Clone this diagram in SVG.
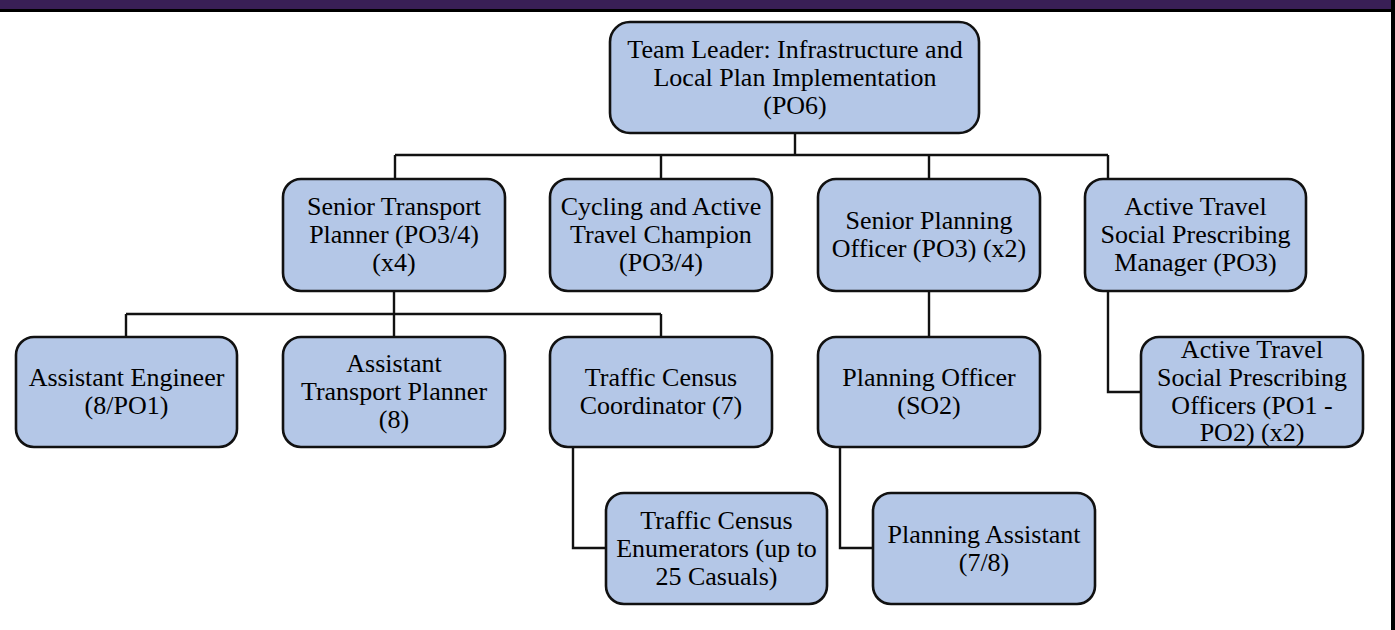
<svg xmlns="http://www.w3.org/2000/svg" width="1395" height="630" viewBox="0 0 1395 630">
  <style>
    .box { fill: #b4c7e7; stroke: #111; stroke-width: 2.6; }
    .lbl { font-family: 'Liberation Serif', 'Times New Roman', Times, Tinos, 'Noto Serif', 'Nimbus Roman', 'DejaVu Serif', serif; font-size: 26px; fill: #000; text-anchor: middle; }
    .wire { fill: none; stroke: #111; stroke-width: 2.4; }
  </style>
  <rect x="0" y="0" width="1395" height="630" fill="#ffffff"/>
  <!-- header band and frame -->
  <rect x="0" y="0" width="1391" height="9" fill="#391f56"/>
  <rect x="0" y="9" width="1395" height="3" fill="#000"/>
  <rect x="1391" y="0" width="4" height="630" fill="#000"/>

  <g id="connectors">
    <path class="wire" d="M795 133 V155 M395 155 H1108 M395 155 V179 M661 155 V179 M929 155 V179 M1108 155 V179"/>
    <path class="wire" d="M394 291 V314 M126 314 H661 M126 314 V337 M394 314 V337 M661 314 V337"/>
    <path class="wire" d="M929 291 V337"/>
    <path class="wire" d="M1108 291 V392 H1141"/>
    <path class="wire" d="M573 447 V548 H606"/>
    <path class="wire" d="M840 447 V548 H873"/>
  </g>

  <g id="team-leader">
    <rect class="box" x="610" y="22" width="369" height="111" rx="20"/>
    <text class="lbl" x="795" y="57.5">Team Leader: Infrastructure and</text>
    <text class="lbl" x="795" y="85.5">Local Plan Implementation</text>
    <text class="lbl" x="795" y="113.5">(PO6)</text>
  </g>

  <g id="senior-transport-planner">
    <rect class="box" x="283" y="179" width="222" height="112" rx="18"/>
    <text class="lbl" x="394" y="215">Senior Transport</text>
    <text class="lbl" x="394" y="243">Planner (PO3/4)</text>
    <text class="lbl" x="394" y="271">(x4)</text>
  </g>

  <g id="cycling-champion">
    <rect class="box" x="550" y="179" width="222" height="112" rx="18"/>
    <text class="lbl" x="661" y="215">Cycling and Active</text>
    <text class="lbl" x="661" y="243">Travel Champion</text>
    <text class="lbl" x="661" y="271">(PO3/4)</text>
  </g>

  <g id="senior-planning-officer">
    <rect class="box" x="818" y="179" width="222" height="112" rx="18"/>
    <text class="lbl" x="929" y="229">Senior Planning</text>
    <text class="lbl" x="929" y="257">Officer (PO3) (x2)</text>
  </g>

  <g id="active-travel-manager">
    <rect class="box" x="1085" y="179" width="221" height="112" rx="18"/>
    <text class="lbl" x="1195.5" y="215">Active Travel</text>
    <text class="lbl" x="1195.5" y="243">Social Prescribing</text>
    <text class="lbl" x="1195.5" y="271">Manager (PO3)</text>
  </g>

  <g id="assistant-engineer">
    <rect class="box" x="16" y="337" width="221" height="110" rx="18"/>
    <text class="lbl" x="126.5" y="386">Assistant Engineer</text>
    <text class="lbl" x="126.5" y="414">(8/PO1)</text>
  </g>

  <g id="assistant-transport-planner">
    <rect class="box" x="283" y="337" width="222" height="110" rx="18"/>
    <text class="lbl" x="394" y="372">Assistant</text>
    <text class="lbl" x="394" y="400">Transport Planner</text>
    <text class="lbl" x="394" y="428">(8)</text>
  </g>

  <g id="traffic-census-coordinator">
    <rect class="box" x="550" y="337" width="222" height="110" rx="18"/>
    <text class="lbl" x="661" y="386">Traffic Census</text>
    <text class="lbl" x="661" y="414">Coordinator (7)</text>
  </g>

  <g id="planning-officer">
    <rect class="box" x="818" y="337" width="222" height="110" rx="18"/>
    <text class="lbl" x="929" y="386">Planning Officer</text>
    <text class="lbl" x="929" y="414">(SO2)</text>
  </g>

  <g id="active-travel-officers">
    <rect class="box" x="1141" y="337" width="222" height="110" rx="18"/>
    <text class="lbl" x="1252" y="358">Active Travel</text>
    <text class="lbl" x="1252" y="386">Social Prescribing</text>
    <text class="lbl" x="1252" y="414">Officers (PO1 -</text>
    <text class="lbl" x="1252" y="441">PO2) (x2)</text>
  </g>

  <g id="traffic-census-enumerators">
    <rect class="box" x="606" y="493" width="221" height="111" rx="18"/>
    <text class="lbl" x="716.5" y="528.5">Traffic Census</text>
    <text class="lbl" x="716.5" y="556.5">Enumerators (up to</text>
    <text class="lbl" x="716.5" y="584.5">25 Casuals)</text>
  </g>

  <g id="planning-assistant">
    <rect class="box" x="873" y="493" width="222" height="111" rx="18"/>
    <text class="lbl" x="984" y="542.5">Planning Assistant</text>
    <text class="lbl" x="984" y="570.5">(7/8)</text>
  </g>
</svg>
